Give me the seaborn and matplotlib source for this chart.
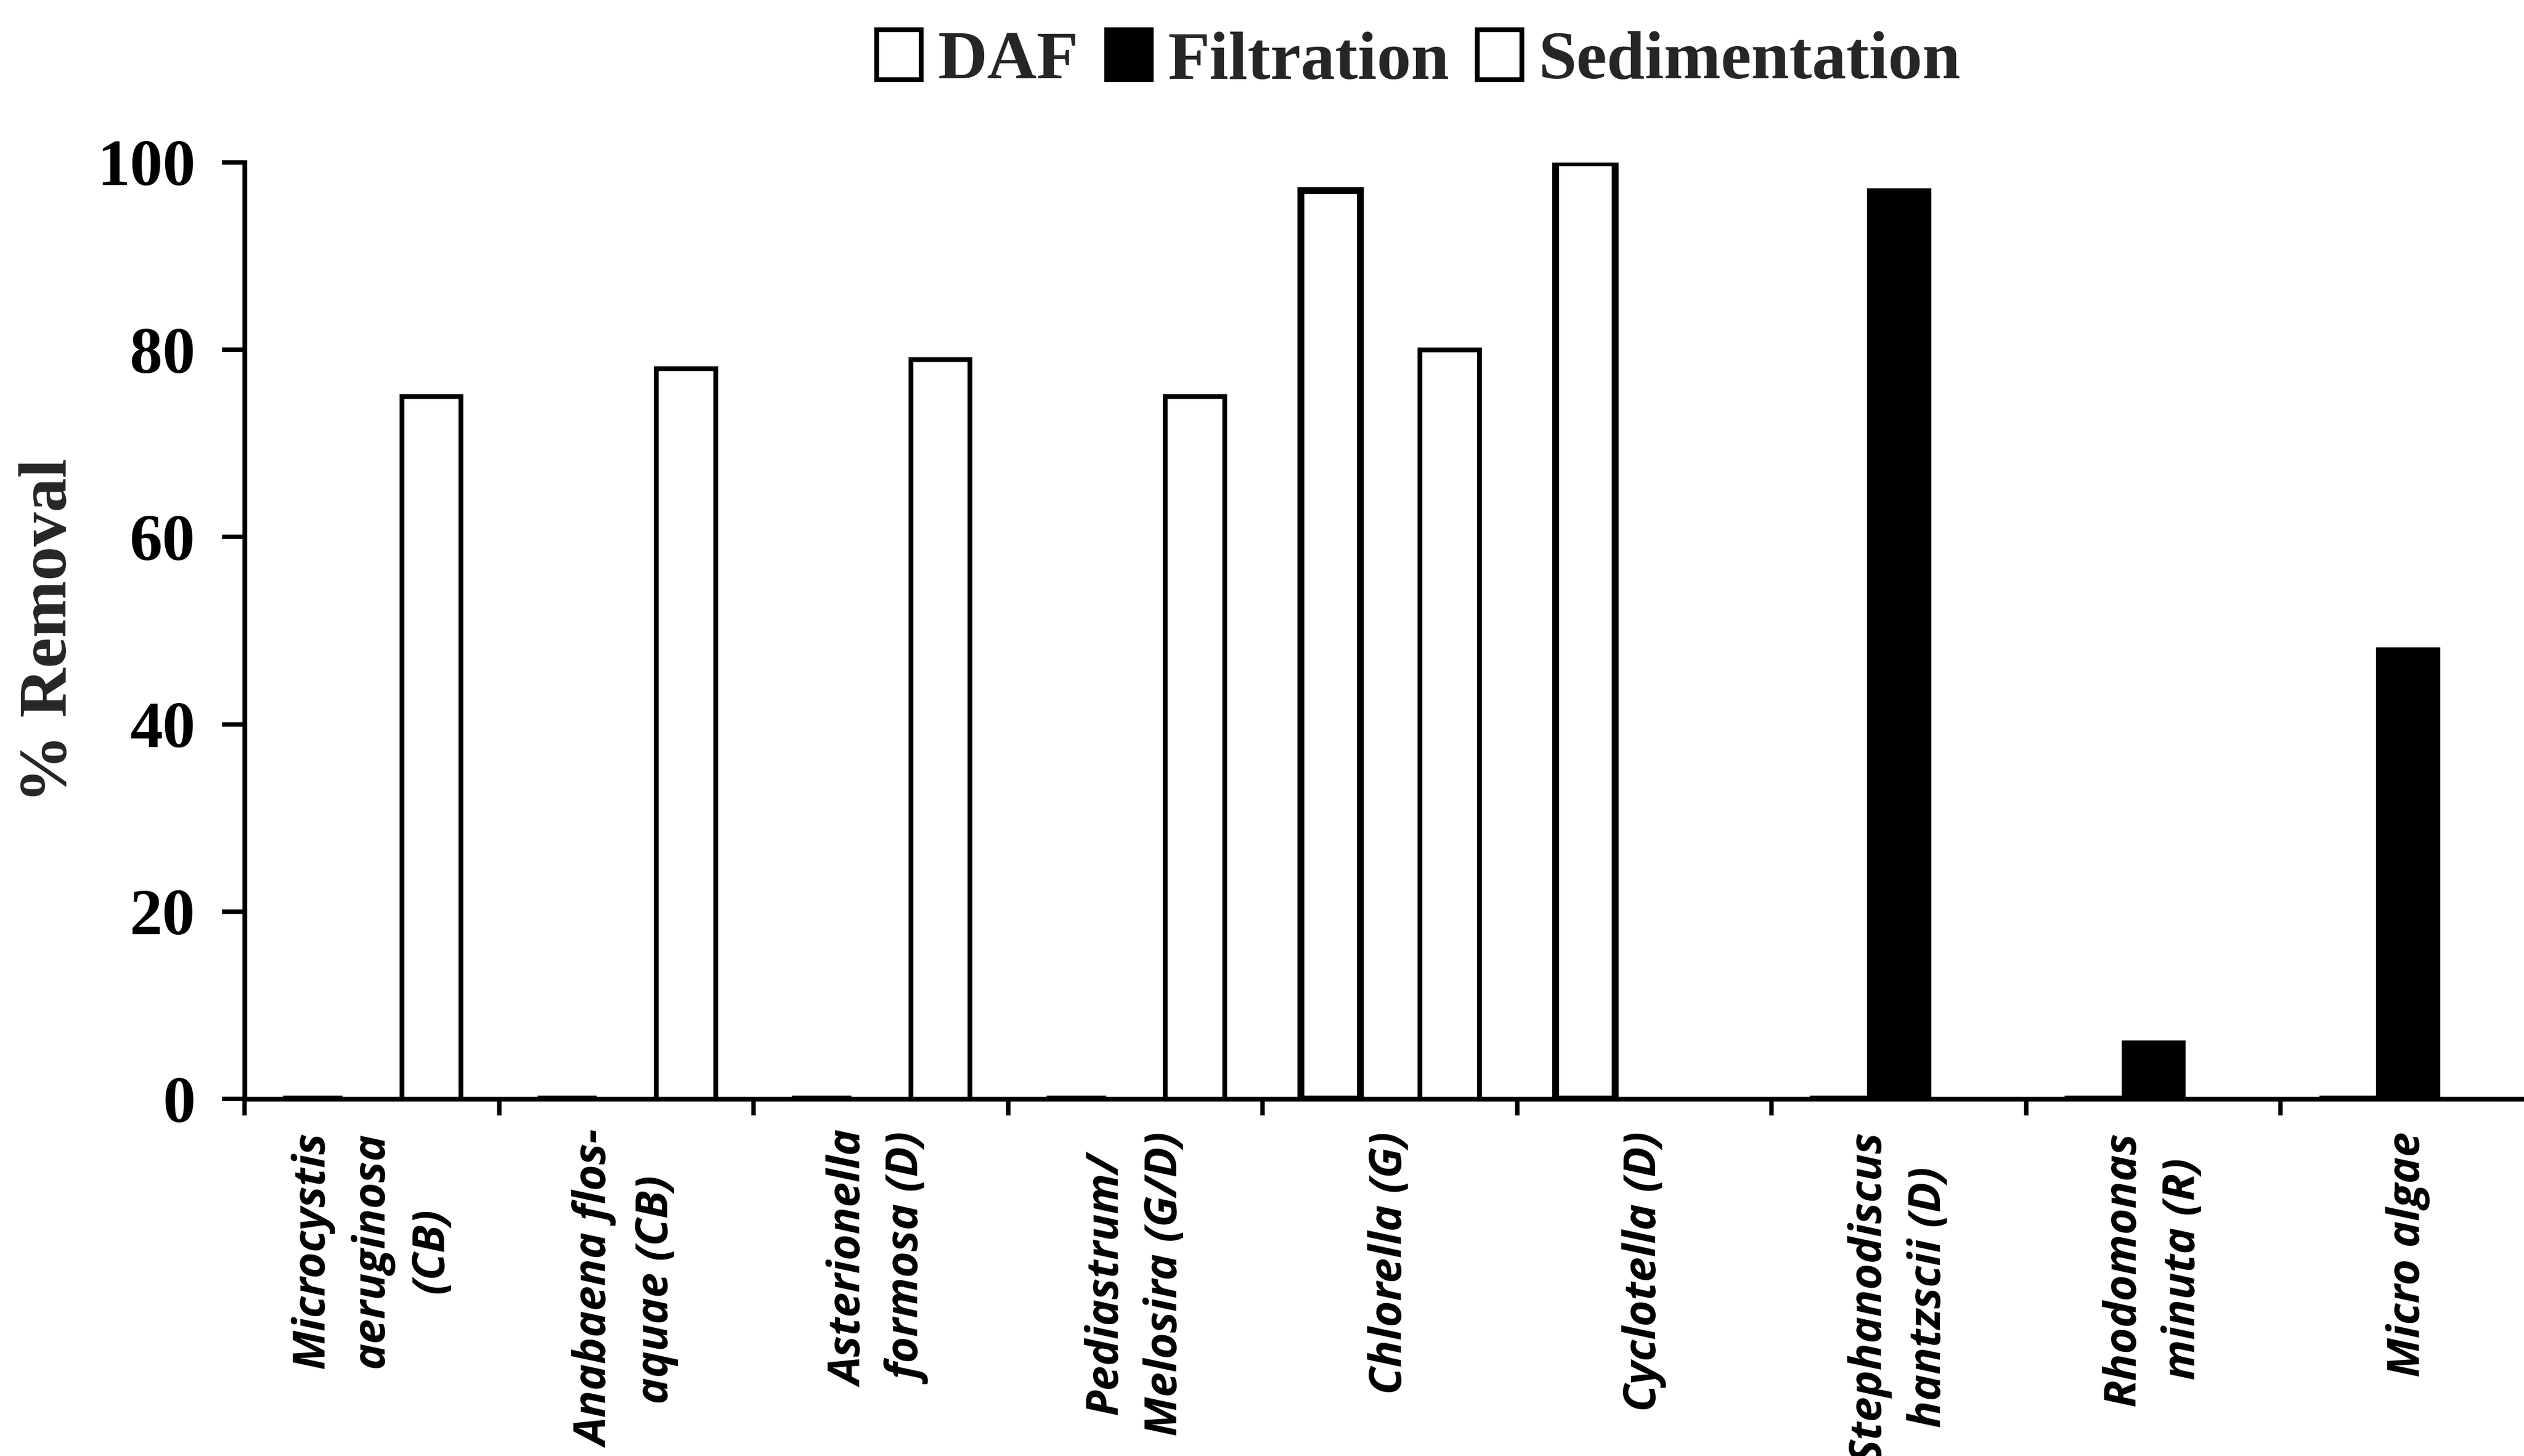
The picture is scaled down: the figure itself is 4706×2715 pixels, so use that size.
import numpy as np
import pandas as pd
import matplotlib
matplotlib.use("Agg")
import matplotlib.pyplot as plt
import seaborn as sns

# ---- data ----
categories = [
    "Microcystis\naeruginosa\n(CB)",
    "Anabaena flos-\naquae (CB)",
    "Asterionella\nformosa (D)",
    "Pediastrum/\nMelosira (G/D)",
    "Chlorella (G)",
    "Cyclotella (D)",
    "Stephanodiscus\nhantzscii (D)",
    "Rhodomonas\nminuta (R)",
    "Micro algae",
]
methods = ["DAF", "Filtration", "Sedimentation"]
daf = [0, 0, 0, 0, 97, 100, 0, 0, 0]
filtration = [0, 0, 0, 0, 0, 0, 97, 6, 48]
sedimentation = [75, 78, 79, 75, 80, 0, 0, 0, 0]
y_ticks = [0, 20, 40, 60, 80, 100]
method_colors = {"DAF": "white", "Filtration": "black", "Sedimentation": "white"}

rows = []
for m, vals in zip(methods, [daf, filtration, sedimentation]):
    for c, v in zip(categories, vals):
        rows.append({"Algae": c, "Method": m, "Removal": v})
df = pd.DataFrame(rows)

sns.set_theme(style="ticks")
plt.rcParams["font.family"] = ["Liberation Serif", "DejaVu Serif"]

fig = plt.figure(figsize=(23.53, 13.575), dpi=200)
ax = fig.add_axes([0.0969, 0.2453, 0.9031, 0.6431])

sns.barplot(
    data=df, x="Algae", y="Removal", hue="Method",
    order=categories, hue_order=methods, palette=method_colors,
    edgecolor="black", linewidth=3.2, width=0.7, saturation=1,
    ax=ax, legend=True,
)
for p in ax.containers[0]:
    p.set_linewidth(4.6)

ax.set_ylim(0, 100)
ax.set_xlim(-0.5, 8.456)
ax.set_xlabel("")
ax.set_ylabel("% Removal", fontsize=46, fontfamily="Liberation Serif", fontweight="bold")
ax.yaxis.set_label_coords(-0.072, 0.5)

for s in ["top", "right"]:
    ax.spines[s].set_visible(False)
for s in ["left", "bottom"]:
    ax.spines[s].set_linewidth(3.2)
    ax.spines[s].set_color("black")

ax.set_yticks(y_ticks)
ax.set_yticklabels([str(v) for v in y_ticks], fontweight="bold")
ax.tick_params(axis="y", direction="out", length=15, width=3, labelsize=44, pad=18, colors="black")

ax.set_xticks(range(len(categories)))
ax.set_xticklabels(categories, rotation=90, ha="center", va="top",
                   multialignment="center", fontfamily="Open Sans",
                   fontweight="bold", fontstyle="italic", fontsize=30,
                   linespacing=1.45)
ax.tick_params(axis="x", which="major", length=0, pad=22, colors="black")
ax.set_xticks(np.arange(-0.5, 8.0, 1.0), minor=True)
ax.tick_params(axis="x", which="minor", direction="out", length=11, width=3, bottom=True, colors="black")

sns.move_legend(
    ax, "center", bbox_to_anchor=(0.562, 0.958), bbox_transform=fig.transFigure,
    ncol=3, frameon=False, title=None,
    prop={"family": "Liberation Serif", "weight": "bold", "size": 46},
    handlelength=0.65, handleheight=0.75, handletextpad=0.25, columnspacing=0.4,
    borderaxespad=0,
)
leg = ax.get_legend()
for h in leg.legend_handles:
    h.set_edgecolor("black")
    h.set_linewidth(3.2)

fig.savefig("out.png", dpi=200)
